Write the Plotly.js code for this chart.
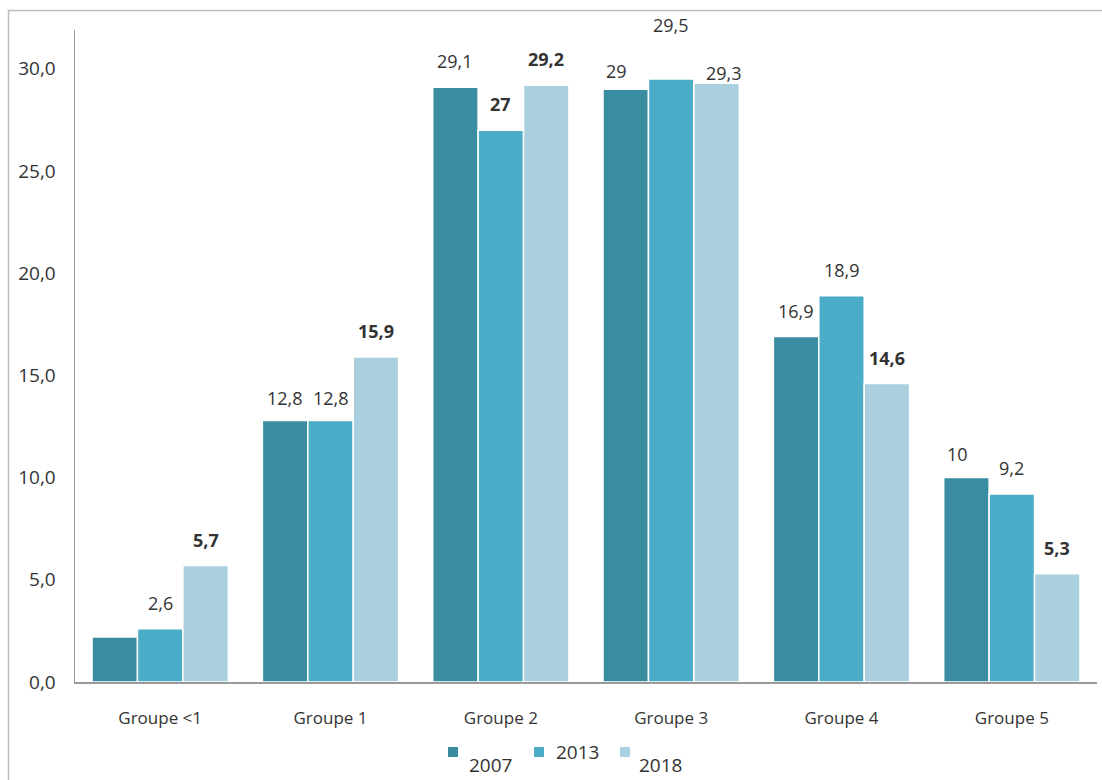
<!DOCTYPE html>
<html>
<head>
<meta charset="utf-8">
<script src="https://cdn.plot.ly/plotly-3.0.1.min.js"></script>
<style>html,body{margin:0;padding:0;background:#fff;}#chart{width:1102px;height:780px;}</style>
</head>
<body>
<div id="chart"></div>
<script>
// ---- data ----
const categories = ["Groupe <1", "Groupe 1", "Groupe 2", "Groupe 3", "Groupe 4", "Groupe 5"];
const seriesNames = ["2007", "2013", "2018"];
const values2007 = [2.2, 12.8, 29.1, 29.0, 16.9, 10.0];
const values2013 = [2.6, 12.8, 27.0, 29.5, 18.9, 9.2];
const values2018 = [5.7, 15.9, 29.2, 29.3, 14.6, 5.3];
// which labels are shown and which are bold (per series, per category)
const showLabel2007 = [false, true, true, true, true, true];
const showLabel2013 = [true, true, true, true, true, true];
const showLabel2018 = [true, true, true, true, true, true];
const bold2007 = [false, false, false, false, false, false];
const bold2013 = [false, false, true, false, false, false];
const bold2018 = [true, true, true, false, true, true];
const yTicks = [0, 5, 10, 15, 20, 25, 30];

// ---- style ----
const colors = ["#3a8ca1", "#4aacc6", "#aacfde"];
const FONT = "Open Sans, Liberation Sans, sans-serif";
const textColor = "#333333";
const labelShift = 26;
// special label placement tweaks [series][category] -> {dx, dy}
const labelTweaks = {
  "0-1": {dx: 0, dy: 22}, "1-1": {dx: 0, dy: 22},
  "0-3": {dx: -9, dy: 18}, "1-3": {dx: 0, dy: 54}, "2-3": {dx: 7, dy: 10},
  "0-5": {dx: -9, dy: 24}
};

const allValues = [values2007, values2013, values2018];
const allShow = [showLabel2007, showLabel2013, showLabel2018];
const allBold = [bold2007, bold2013, bold2018];

const fmt = v => String(v).replace(".", ",");

const traces = allValues.map((vals, i) => ({
  type: "bar",
  name: seriesNames[i],
  x: categories,
  y: vals,
  offsetgroup: String(i),
  marker: {color: colors[i], line: {color: "#ffffff", width: 1.5}},
  hoverinfo: "x+y",
  showlegend: false
}));

const annotations = [];
const nS = allValues.length;
const groupW = 0.8;
const barW = groupW / nS;
allValues.forEach((vals, i) => {
  vals.forEach((v, j) => {
    if (!allShow[i][j]) return;
    const tw = labelTweaks[i + "-" + j] || {dx: 0, dy: labelShift};
    annotations.push({
      x: j - groupW / 2 + barW * (i + 0.5),
      y: v,
      xref: "x", yref: "y",
      text: allBold[i][j] ? "<b>" + fmt(v) + "</b>" : fmt(v),
      showarrow: false,
      xanchor: "center", yanchor: "middle",
      xshift: tw.dx, yshift: tw.dy,
      font: {family: FONT, size: 18, color: textColor}
    });
  });
});

// custom legend
const legendSquareX = [453, 539, 625];
const legendTextX = [490, 577, 660];
const legendTextY = [765, 752, 765];
const px2x = p => (p - 75) / 1022;
const px2y = p => (682 - p) / 652;
const shapes = [];
seriesNames.forEach((n, i) => {
  shapes.push({
    type: "rect", xref: "paper", yref: "paper",
    x0: px2x(legendSquareX[i] - 5), x1: px2x(legendSquareX[i] + 5),
    y0: px2y(757), y1: px2y(747),
    fillcolor: colors[i], line: {width: 0}
  });
  annotations.push({
    xref: "paper", yref: "paper",
    x: px2x(legendTextX[i]), y: px2y(legendTextY[i]),
    text: n, showarrow: false, xanchor: "center", yanchor: "middle",
    font: {family: FONT, size: 19, color: textColor}
  });
});
// outer frame (left and top)
shapes.push({
  type: "path", xref: "paper", yref: "paper",
  path: "M " + px2x(8.5) + " " + px2y(782) + " L " + px2x(8.5) + " " + px2y(10.5) + " L " + px2x(1104) + " " + px2y(10.5),
  line: {color: "#bdbdbd", width: 1.5}
});

const layout = {
  width: 1102, height: 780,
  margin: {l: 75, r: 5, t: 30, b: 98},
  paper_bgcolor: "#ffffff", plot_bgcolor: "#ffffff",
  separators: ", ",
  barmode: "group",
  bargap: 0.2, bargroupgap: 0,
  showlegend: false,
  font: {family: FONT, color: textColor},
  xaxis: {
    showline: true, linecolor: "#9a9a9a", linewidth: 1.5,
    ticks: "outside", ticklen: 20, tickcolor: "rgba(0,0,0,0)",
    tickfont: {family: FONT, size: 17, color: textColor},
    showgrid: false, zeroline: false, fixedrange: true
  },
  yaxis: {
    range: [0, 31.9],
    showline: true, linecolor: "#9a9a9a", linewidth: 1.5,
    tickvals: yTicks, tickformat: ".1f",
    ticks: "outside", ticklen: 14, tickcolor: "rgba(0,0,0,0)",
    tickfont: {family: FONT, size: 19, color: textColor},
    showgrid: false, zeroline: false, fixedrange: true
  },
  annotations: annotations,
  shapes: shapes
};

Plotly.newPlot("chart", traces, layout, {displayModeBar: false, staticPlot: true});
</script>
</body>
</html>
